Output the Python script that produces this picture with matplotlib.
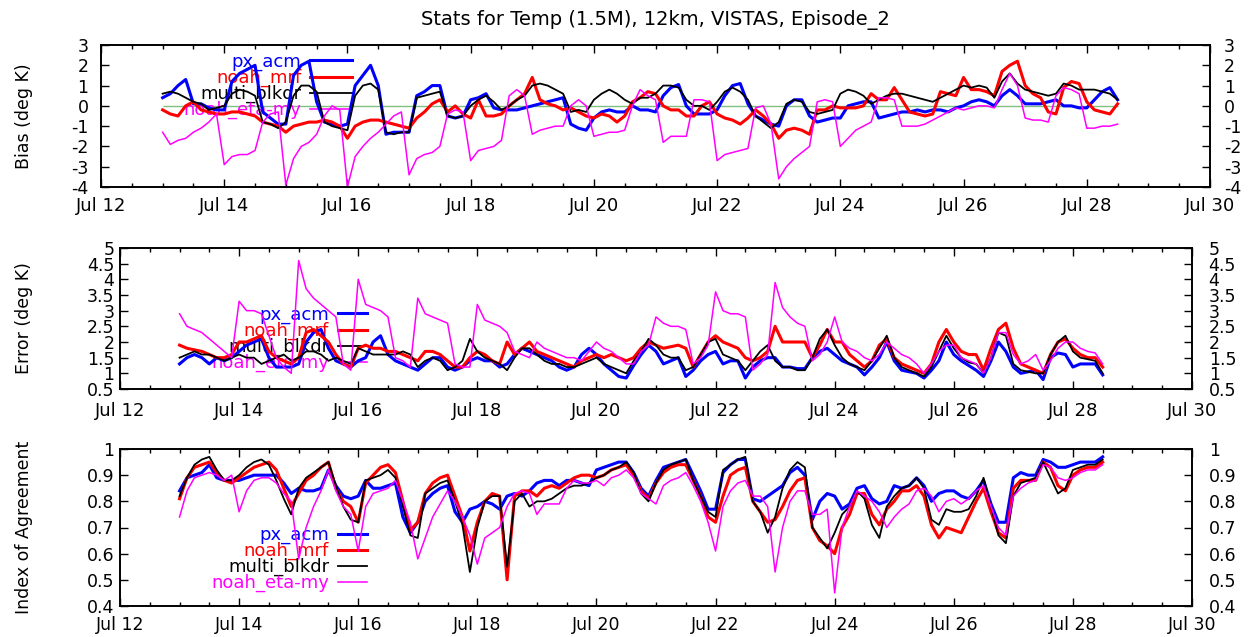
import numpy as np
import pandas as pd
import matplotlib
matplotlib.use("Agg")
import matplotlib.pyplot as plt
import matplotlib.dates as mdates
from matplotlib.ticker import FuncFormatter

plt.rcParams['font.family'] = ['DejaVu Sans']

# 3-hourly samples, Jul 13 00Z .. Jul 28 12Z (one row per day: 00,03,...,21Z)
times = pd.date_range('2002-07-13 00:00', '2002-07-28 12:00', freq='3h')

names = ['px_acm', 'noah_mrf', 'multi_blkdr', 'noah_eta-my']

# ---- Bias (deg K)
bias_px_acm = [
    0.4, 0.6, 1.0, 1.3, 0.1, 0.1, -0.1, -0.2,
    -0.2, 1.2, 1.6, 1.8, 2.0, -0.3, -0.6, -0.9,
    -0.9, 1.5, 2.0, 2.2, 0.2, -0.8, -0.9, -1.0,
    -0.9, 1.0, 1.5, 2.0, 1.0, -1.4, -1.3, -1.3,
    -1.3, 0.5, 0.7, 1.0, 1.0, -0.5, -0.6, -0.5,
    0.3, 0.4, 0.6, -0.1, -0.2, -0.2, -0.2, -0.1,
    0.0, 0.1, 0.2, 0.3, 0.4, -0.9, -1.1, -1.2,
    -0.6, -0.3, -0.2, -0.3, -0.3, 0.0, -0.2, -0.2,
    -0.3, 0.5, 0.9, 1.05, 0.0, -0.4, -0.4, -0.4,
    -0.2, 0.5, 1.0, 1.1, 0.1, -0.5, -0.7, -0.9,
    -1.0, 0.0, 0.3, 0.3, -0.5, -0.8, -0.7, -0.6,
    -0.6, 0.0, 0.1, 0.2, 0.2, -0.6, -0.5, -0.4,
    -0.3, -0.3, -0.2, -0.3, -0.2, -0.2, -0.3, -0.1,
    0.0, 0.2, 0.3, 0.2, 0.0, 0.5, 0.8, 0.5,
    0.1, 0.1, 0.1, 0.2, 0.3, 0.0, 0.0, -0.1,
    -0.1, 0.3, 0.7, 0.9, 0.3]
bias_noah_mrf = [
    -0.2, -0.4, -0.5, 0.0, 0.2, -0.2, -0.3, -0.4,
    -0.4, -0.3, -0.3, -0.4, -0.5, -0.8, -0.9, -1.0,
    -1.3, -1.0, -0.9, -0.8, -0.8, -0.7, -0.8, -1.0,
    -1.6, -1.0, -0.8, -0.7, -0.7, -0.8, -0.9, -1.0,
    -1.1, -0.6, -0.3, 0.1, 0.3, -0.3, 0.0, -0.4,
    -0.6, 0.3, -0.5, -0.5, -0.4, 0.0, 0.3, 0.6,
    1.4, 0.3, 0.1, 0.0, -0.2, -0.1, -0.3, -0.5,
    -0.6, -0.4, -0.5, -0.8, -0.5, 0.2, 0.4, 0.7,
    0.6, 0.0, -0.2, -0.2, -0.5, -0.5, 0.0, 0.2,
    -0.4, -0.6, -0.7, -0.9, -0.6, -0.2, -0.5, -0.9,
    -1.6, -1.2, -1.1, -1.2, -1.4, -0.2, -0.2, 0.0,
    -0.1, -0.1, -0.1, 0.0, 0.6, 0.3, 0.3, 0.9,
    0.3, -0.3, -0.4, -0.5, -0.4, 0.7, 0.6, 0.5,
    1.4, 0.8, 0.8, 0.7, 0.5, 1.7, 2.0, 2.2,
    1.0, 0.6, 0.4, -0.3, -0.4, 0.9, 1.2, 1.1,
    0.2, -0.2, -0.3, -0.4, 0.1]
bias_multi_blkdr = [
    0.6, 0.7, 0.6, 0.4, 0.2, 0.1, -0.2, -0.1,
    0.0, 0.6, 0.8, 0.7, 0.5, -0.8, -0.9, -1.1,
    -0.8, 0.5, 1.0, 1.0, 0.7, -0.8, -1.0, -1.1,
    -1.2, 0.5, 1.0, 1.1, 0.8, -1.3, -1.4, -1.3,
    -1.3, 0.4, 0.5, 0.6, 0.7, -0.5, -0.6, -0.5,
    0.0, 0.3, 0.5, 0.2, -0.2, 0.0, 0.3, 0.5,
    1.0, 1.1, 1.0, 0.8, 0.6, -0.3, -0.2, -0.3,
    0.3, 0.6, 0.8, 0.6, 0.3, 0.1, 0.4, 0.4,
    0.6, 1.0, 1.0, 0.9, 0.3, 0.0, 0.0, -0.2,
    0.2, 0.7, 0.9, 0.7, 0.3, -0.5, -0.8, -1.1,
    -0.8, 0.1, 0.3, 0.2, -0.3, -0.4, -0.3, -0.2,
    0.6, 0.8, 0.7, 0.5, 0.1, 0.3, 0.5, 0.6,
    0.6, 0.5, 0.4, 0.3, 0.2, 0.4, 0.6, 0.8,
    1.0, 0.9, 1.0, 0.9, 0.4, 1.2, 1.6, 1.1,
    0.8, 0.7, 0.6, 0.5, 0.6, 1.1, 1.0, 0.8,
    0.8, 0.8, 0.7, 0.6, 0.3]
bias_noah_eta_my = [
    -1.3, -1.9, -1.7, -1.6, -1.3, -1.1, -0.8, -0.4,
    -2.9, -2.5, -2.4, -2.4, -2.2, -0.8, -0.4, -0.3,
    -3.9, -2.6, -2.0, -1.8, -1.4, -0.5, 0.0, -0.2,
    -4.0, -2.5, -2.0, -1.6, -1.3, -0.9, -0.5, -0.3,
    -3.4, -2.6, -2.4, -2.3, -2.0, -0.4, -0.2, -0.3,
    -2.7, -2.2, -2.1, -2.0, -1.7, 0.5, 0.8, 0.5,
    -1.4, -1.2, -1.1, -1.0, -1.0, 0.0, 0.3, 0.0,
    -1.5, -1.4, -1.3, -1.3, -1.2, 0.0, 0.8, 0.5,
    0.3, -1.8, -1.5, -1.5, -1.5, 0.3, 0.3, 0.2,
    -2.7, -2.4, -2.3, -2.2, -2.1, -0.1, 0.0, -0.9,
    -3.6, -3.0, -2.6, -2.3, -2.0, 0.2, 0.3, 0.2,
    -2.0, -1.6, -1.2, -1.0, -0.8, 0.4, 0.4, 0.3,
    -1.0, -1.0, -1.0, -0.9, -0.7, -0.5, -0.3, -0.1,
    -0.2, -0.1, 0.0, 0.0, -0.1, 0.8, 1.6, 1.0,
    -0.6, -0.7, -0.7, -0.8, 0.5, 0.9, 0.8, 0.6,
    -1.1, -1.1, -1.0, -1.0, -0.9]

# ---- Error (deg K)
err_px_acm = [
    1.3, 1.5, 1.6, 1.5, 1.3, 1.5, 1.4, 1.5,
    1.7, 1.9, 2.0, 2.1, 1.5, 1.2, 1.2, 1.2,
    1.3, 2.0, 2.3, 2.4, 1.8, 1.4, 1.3, 1.2,
    1.4, 1.5, 2.0, 2.2, 1.6, 1.4, 1.3, 1.2,
    1.1, 1.3, 1.5, 1.5, 1.2, 1.1, 1.2, 1.4,
    1.5, 1.4, 1.4, 1.2, 1.3, 1.6, 1.8, 1.7,
    1.6, 1.5, 1.4, 1.2, 1.1, 1.2, 1.6, 1.8,
    1.6, 1.3, 1.1, 0.9, 0.85, 1.25, 1.6, 1.9,
    1.7, 1.3, 1.4, 1.5, 0.9, 1.1, 1.4, 1.6,
    1.7, 1.3, 1.4, 1.4, 0.85, 1.2, 1.4, 1.5,
    1.5, 1.2, 1.2, 1.15, 1.15, 1.5, 1.7, 1.8,
    1.6, 1.4, 1.3, 1.2, 0.95, 1.2, 1.5, 2.0,
    1.4, 1.1, 1.05, 1.0, 0.85, 1.1, 1.4, 2.0,
    1.6, 1.4, 1.25, 1.1, 0.9, 1.4, 2.0, 1.7,
    1.2, 1.0, 1.05, 1.1, 0.8, 1.5, 1.65, 1.6,
    1.2, 1.3, 1.3, 1.3, 0.95]
err_noah_mrf = [
    1.9, 1.8, 1.75, 1.7, 1.6, 1.5, 1.5, 1.6,
    2.0, 2.0, 2.1, 2.2, 1.7, 1.5, 1.4, 1.3,
    1.5, 2.3, 2.4, 2.2, 2.0, 1.6, 1.3, 1.2,
    1.8, 1.9, 1.8, 1.8, 1.7, 1.7, 1.6, 1.5,
    1.4, 1.7, 1.7, 1.6, 1.4, 1.2, 1.2, 1.5,
    1.7, 1.6, 1.4, 1.3, 2.0, 1.6, 1.8, 2.0,
    1.7, 1.6, 1.5, 1.4, 1.3, 1.2, 1.4, 1.5,
    1.6, 1.5, 1.6, 1.5, 1.4, 1.5, 1.8, 2.0,
    1.9, 1.8, 1.85, 1.9, 1.8, 1.2, 1.6, 2.0,
    2.2, 2.0, 1.9, 1.8, 1.5, 1.4, 1.5, 1.7,
    2.5, 2.0, 2.0, 2.0, 2.0, 1.5, 1.9, 2.4,
    2.0, 2.0, 1.6, 1.4, 1.2, 1.4, 1.9, 2.1,
    1.5, 1.3, 1.2, 1.1, 1.0, 1.3, 2.0, 2.4,
    2.0, 1.7, 1.6, 1.6, 1.1, 1.8, 2.4, 2.6,
    1.8, 1.3, 1.2, 1.1, 1.0, 1.6, 2.0, 2.1,
    1.8, 1.6, 1.5, 1.5, 1.2]
err_multi_blkdr = [
    1.5, 1.6, 1.7, 1.6, 1.6, 1.5, 1.4, 1.5,
    1.6, 1.5, 1.5, 1.3, 1.4, 1.5, 1.6, 1.4,
    1.5, 1.7, 1.7, 1.6, 1.4, 1.5, 1.4, 1.3,
    1.8, 1.7, 1.6, 1.6, 1.6, 1.6, 1.7, 1.6,
    1.2, 1.4, 1.5, 1.4, 1.1, 1.2, 1.4, 2.1,
    1.7, 1.5, 1.4, 1.3, 1.1, 1.5, 1.8, 1.8,
    1.6, 1.4, 1.3, 1.3, 1.2, 1.2, 1.3, 1.4,
    1.5, 1.3, 1.2, 1.1, 1.0, 1.4, 1.7, 2.1,
    1.9, 1.6, 1.5, 1.5, 1.1, 1.2, 1.6, 2.0,
    2.1, 1.6, 1.5, 1.4, 1.1, 1.4, 1.7, 1.9,
    1.4, 1.2, 1.2, 1.1, 1.1, 1.5, 2.1, 2.4,
    1.9, 1.5, 1.3, 1.2, 1.1, 1.4, 1.8, 2.2,
    1.5, 1.2, 1.1, 1.0, 0.9, 1.2, 1.7, 2.2,
    1.8, 1.5, 1.35, 1.3, 1.0, 1.5, 2.3, 2.2,
    1.3, 1.1, 1.05, 1.0, 1.0, 1.6, 2.0, 2.2,
    1.7, 1.5, 1.45, 1.4, 1.0]
err_noah_eta_my = [
    2.9, 2.5, 2.4, 2.3, 2.1, 1.9, 1.7, 1.5,
    3.3, 3.0, 3.0, 2.9, 2.2, 1.5, 1.2, 1.0,
    4.6, 3.7, 3.4, 3.2, 3.0, 2.8, 1.3, 1.1,
    4.0, 3.2, 3.1, 3.0, 2.8, 1.5, 1.4, 1.2,
    3.4, 2.9, 2.8, 2.7, 2.6, 1.3, 1.2, 1.2,
    3.2, 2.7, 2.6, 2.5, 2.3, 1.7, 1.6, 1.5,
    2.0, 1.8, 1.7, 1.6, 1.5, 1.5, 1.4, 1.7,
    2.0, 1.8, 1.7, 1.5, 1.3, 1.3, 1.7, 1.9,
    2.8, 2.6, 2.5, 2.5, 2.4, 1.3, 1.5, 1.9,
    3.6, 3.0, 2.9, 2.9, 2.8, 1.1, 1.3, 1.6,
    3.9, 3.1, 2.8, 2.6, 2.5, 1.4, 1.6, 2.0,
    2.8, 2.0, 1.8, 1.7, 1.5, 1.4, 1.6, 2.0,
    1.8, 1.6, 1.5, 1.3, 1.0, 1.3, 1.7, 1.9,
    1.9, 1.5, 1.4, 1.3, 1.0, 1.5, 2.3, 2.3,
    1.6, 1.3, 1.4, 1.6, 1.1, 1.4, 1.8, 2.0,
    2.0, 1.8, 1.7, 1.65, 1.3]

# ---- Index of Agreement
ioa_px_acm = [
    0.84, 0.89, 0.90, 0.91, 0.94, 0.89, 0.88, 0.88,
    0.88, 0.89, 0.90, 0.90, 0.90, 0.90, 0.87, 0.83,
    0.85, 0.84, 0.84, 0.85, 0.92, 0.86, 0.82, 0.81,
    0.82, 0.88, 0.85, 0.85, 0.86, 0.87, 0.74, 0.68,
    0.72, 0.80, 0.83, 0.85, 0.86, 0.76, 0.72, 0.77,
    0.78, 0.80, 0.79, 0.77, 0.82, 0.83, 0.82, 0.84,
    0.87, 0.88, 0.88, 0.86, 0.88, 0.88, 0.87, 0.86,
    0.92, 0.93, 0.94, 0.95, 0.95, 0.91, 0.85, 0.82,
    0.88, 0.93, 0.94, 0.95, 0.96, 0.90, 0.84, 0.77,
    0.77, 0.91, 0.94, 0.96, 0.96, 0.81, 0.80, 0.82,
    0.84, 0.86, 0.91, 0.93, 0.90, 0.73, 0.80, 0.83,
    0.82, 0.77, 0.79, 0.85, 0.86, 0.81, 0.79, 0.80,
    0.86, 0.85, 0.86, 0.89, 0.86, 0.80, 0.83, 0.84,
    0.84, 0.82, 0.81, 0.84, 0.88, 0.79, 0.72, 0.72,
    0.89, 0.91, 0.90, 0.90, 0.96, 0.95, 0.93, 0.93,
    0.94, 0.95, 0.95, 0.95, 0.97]
ioa_noah_mrf = [
    0.81, 0.89, 0.93, 0.94, 0.95, 0.91, 0.88, 0.87,
    0.89, 0.91, 0.93, 0.94, 0.95, 0.92, 0.85, 0.78,
    0.83, 0.88, 0.90, 0.93, 0.95, 0.85, 0.80, 0.78,
    0.72, 0.87, 0.90, 0.93, 0.94, 0.91, 0.80, 0.69,
    0.72, 0.83, 0.87, 0.89, 0.90, 0.82, 0.74, 0.61,
    0.72, 0.80, 0.83, 0.82, 0.50, 0.82, 0.84, 0.84,
    0.82, 0.85, 0.86, 0.85, 0.87, 0.89, 0.90, 0.90,
    0.89, 0.90, 0.92, 0.93, 0.94, 0.90, 0.84, 0.81,
    0.87, 0.91, 0.93, 0.94, 0.94, 0.88, 0.82, 0.74,
    0.72, 0.82, 0.90, 0.92, 0.93, 0.80, 0.76, 0.72,
    0.73, 0.78, 0.84, 0.88, 0.89, 0.70, 0.65, 0.63,
    0.60, 0.70, 0.75, 0.83, 0.83, 0.75, 0.71, 0.77,
    0.80, 0.84, 0.84, 0.86, 0.82, 0.71, 0.66, 0.70,
    0.69, 0.68, 0.74, 0.80, 0.85, 0.76, 0.68, 0.66,
    0.85, 0.88, 0.88, 0.88, 0.95, 0.93, 0.86, 0.84,
    0.90, 0.92, 0.93, 0.93, 0.95]
ioa_multi_blkdr = [
    0.82, 0.89, 0.94, 0.96, 0.97, 0.92, 0.88, 0.88,
    0.90, 0.93, 0.95, 0.96, 0.94, 0.88, 0.81, 0.75,
    0.85, 0.89, 0.91, 0.93, 0.95, 0.86, 0.78, 0.73,
    0.72, 0.88, 0.89, 0.90, 0.92, 0.89, 0.78, 0.67,
    0.66, 0.83, 0.85, 0.87, 0.88, 0.80, 0.71, 0.53,
    0.70, 0.80, 0.82, 0.82, 0.55, 0.80, 0.83, 0.78,
    0.80, 0.80, 0.81, 0.83, 0.85, 0.86, 0.86, 0.87,
    0.89, 0.90, 0.92, 0.93, 0.95, 0.91, 0.83, 0.80,
    0.87, 0.92, 0.94, 0.95, 0.96, 0.88, 0.82, 0.76,
    0.74, 0.92, 0.94, 0.96, 0.97, 0.80, 0.76, 0.68,
    0.74, 0.85, 0.92, 0.95, 0.93, 0.70, 0.66, 0.62,
    0.68, 0.75, 0.78, 0.84, 0.81, 0.71, 0.66, 0.78,
    0.82, 0.85, 0.86, 0.89, 0.85, 0.73, 0.71, 0.77,
    0.76, 0.76, 0.77, 0.82, 0.89, 0.78, 0.67, 0.64,
    0.82, 0.87, 0.88, 0.89, 0.95, 0.89, 0.83, 0.85,
    0.92, 0.93, 0.94, 0.94, 0.96]
ioa_noah_eta_my = [
    0.74, 0.84, 0.89, 0.90, 0.91, 0.90, 0.88, 0.90,
    0.76, 0.84, 0.88, 0.89, 0.89, 0.87, 0.83, 0.80,
    0.58, 0.70, 0.78, 0.84, 0.92, 0.84, 0.78, 0.75,
    0.61, 0.78, 0.83, 0.84, 0.85, 0.88, 0.80, 0.72,
    0.58, 0.66, 0.74, 0.79, 0.84, 0.80, 0.74, 0.67,
    0.56, 0.66, 0.68, 0.70, 0.78, 0.83, 0.84, 0.83,
    0.75, 0.79, 0.79, 0.79, 0.85, 0.88, 0.87, 0.87,
    0.88, 0.86, 0.89, 0.90, 0.92, 0.89, 0.83, 0.81,
    0.79, 0.86, 0.88, 0.89, 0.91, 0.86, 0.80, 0.72,
    0.61, 0.78, 0.84, 0.87, 0.88, 0.82, 0.82, 0.78,
    0.53, 0.70, 0.80, 0.84, 0.84, 0.75, 0.75, 0.77,
    0.45, 0.70, 0.78, 0.84, 0.82, 0.80, 0.76, 0.70,
    0.74, 0.77, 0.79, 0.84, 0.85, 0.82, 0.76, 0.80,
    0.81, 0.79, 0.81, 0.84, 0.86, 0.78, 0.70, 0.67,
    0.82, 0.85, 0.87, 0.88, 0.94, 0.93, 0.89, 0.88,
    0.89, 0.91, 0.92, 0.92, 0.94]

colors = ['#0000ff', '#ff0000', '#000000', '#ff00ff']
widths = [2.2, 2.2, 1.3, 1.1]

W, H = 1249, 637
fig = plt.figure(figsize=(W / 100, H / 100), dpi=100)


def px_axes(l, t, r, b):
    return fig.add_axes([l / W, 1 - b / H, (r - l) / W, (b - t) / H])


panels = [
    dict(box=(101, 45, 1210, 187),
         series=[bias_px_acm, bias_noah_mrf, bias_multi_blkdr, bias_noah_eta_my],
         ylabel='Bias (deg K)', ylim=(-4, 3), yticks=np.arange(-4, 3.01, 1),
         leg=(0.2261, 0.945), hlen=2.3, lpad=9, rpad=10, xpad=7, xsize=13),
    dict(box=(120, 248, 1192, 389),
         series=[err_px_acm, err_noah_mrf, err_multi_blkdr, err_noah_eta_my],
         ylabel='Error (deg K)', ylim=(0.5, 5), yticks=np.arange(0.5, 5.01, 0.5),
         leg=(0.2304, 0.59), hlen=1.6, lpad=4, rpad=12, xpad=9, xsize=13),
    dict(box=(120, 449, 1192, 606),
         series=[ioa_px_acm, ioa_noah_mrf, ioa_multi_blkdr, ioa_noah_eta_my],
         ylabel='Index of Agreement', ylim=(0.4, 1.0), yticks=np.arange(0.4, 1.001, 0.1),
         leg=(0.2304, 0.51), hlen=1.6, lpad=4, rpad=12, xpad=6.9, xsize=12.5),
]

fmt = FuncFormatter(lambda v, pos: '%g' % round(v, 2))

for i, p in enumerate(panels):
    ax = px_axes(*p['box'])
    if i == 0:
        # zero reference line across the data period
        ax.hlines(0, times[0], times[-1], color='#80c080', lw=1.0, zorder=1)
    for vals, name, c, lw in zip(p['series'], names, colors, widths):
        ax.plot(times, vals, color=c, lw=lw, label=name, zorder=2)

    ax.set_xlim(pd.Timestamp('2002-07-12'), pd.Timestamp('2002-07-30'))
    ax.set_ylim(*p['ylim'])
    ax.set_yticks(p['yticks'])
    ax.yaxis.set_major_formatter(fmt)
    ax.xaxis.set_major_locator(mdates.DayLocator(bymonthday=range(2, 31, 2)))
    ax.xaxis.set_minor_locator(mdates.HourLocator(byhour=[0, 12]))
    ax.xaxis.set_major_formatter(mdates.DateFormatter('%b %d'))

    ax.tick_params(axis='x', which='major', direction='in', length=6, width=1,
                   top=True, labelsize=p['xsize'], pad=p['xpad'])
    ax.tick_params(axis='x', which='minor', direction='in', length=3, width=1, top=True)
    ax.tick_params(axis='y', which='major', direction='in', length=6, width=1,
                   right=True, labelsize=12.5, pad=p['lpad'])
    for s in ax.spines.values():
        s.set_linewidth(1.2)

    # right-hand copy of the y scale, with its own label offset
    axr = ax.twinx()
    axr.set_ylim(*p['ylim'])
    axr.set_yticks(p['yticks'])
    axr.yaxis.set_major_formatter(fmt)
    axr.tick_params(axis='y', which='major', direction='in', length=6, width=1,
                    labelsize=12.5, pad=p['rpad'])
    for s in axr.spines.values():
        s.set_linewidth(1.2)

    ax.set_ylabel(p['ylabel'], fontsize=12.5)
    x0 = (33 - p['box'][0]) / (p['box'][2] - p['box'][0])
    ax.yaxis.set_label_coords(x0, 0.5)

    leg = ax.legend(loc='upper right', bbox_to_anchor=p['leg'], frameon=False,
                    markerfirst=False, labelcolor='linecolor', fontsize=13,
                    handlelength=p['hlen'], handletextpad=0.5, labelspacing=-0.12,
                    borderpad=0, borderaxespad=0)
    leg.set_zorder(1)

fig.text(655 / W, 1 - 20 / H, 'Stats for Temp (1.5M), 12km, VISTAS, Episode_2',
         ha='center', va='center', fontsize=14)

fig.savefig('out.png', dpi=100)
